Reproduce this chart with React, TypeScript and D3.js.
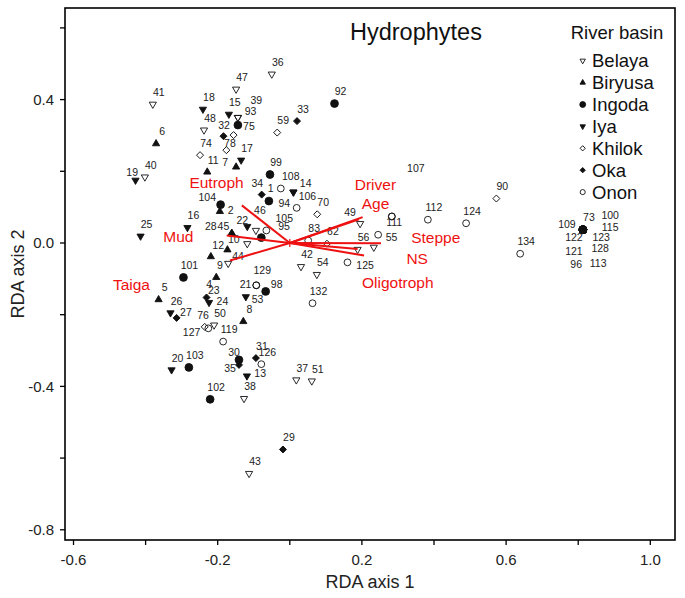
import React from "react";
import * as d3 from "d3";

// ---------- data ----------
const basinNames = ["Belaya", "Biryusa", "Ingoda", "Iya", "Khilok", "Oka", "Onon"];

type P = [string, number, number];

const belaya: P[] = [
  ["41", -0.380, 0.387], ["48", -0.238, 0.315], ["93", -0.144, 0.350], ["39", -0.144, 0.350],
  ["47", -0.149, 0.429], ["36", -0.050, 0.471], ["40", -0.402, 0.184], ["105", -0.094, 0.035],
  ["10", -0.118, -0.002], ["9", -0.171, -0.057], ["49", 0.195, 0.054], ["56", 0.188, -0.018],
  ["", 0.233, -0.012], ["42", 0.031, -0.066], ["54", 0.075, -0.088], ["37", 0.018, -0.382],
  ["51", 0.061, -0.385], ["38", -0.127, -0.434], ["43", -0.113, -0.643], ["50", -0.210, -0.229],
];
const biryusa: P[] = [
  ["6", -0.371, 0.277], ["11", -0.229, 0.198], ["7", -0.149, 0.212], ["2", -0.194, 0.088],
  ["45", -0.161, 0.027], ["28", -0.161, 0.027], ["12", -0.219, -0.038], ["44", -0.173, -0.019],
  ["23", -0.204, -0.096], ["5", -0.364, -0.158], ["8", -0.129, -0.219],
];
const ingoda: P[] = [
  ["92", 0.124, 0.389], ["75", -0.144, 0.329], ["99", -0.055, 0.191], ["1", -0.058, 0.117],
  ["104", -0.192, 0.107], ["46", -0.079, 0.015], ["101", -0.295, -0.096], ["98", -0.067, -0.135],
  ["103", -0.280, -0.347], ["102", -0.221, -0.436], ["30", -0.141, -0.326],
  ["109", 0.813, 0.037], ["100", 0.813, 0.037], ["115", 0.813, 0.037], ["122", 0.813, 0.037],
  ["123", 0.813, 0.037], ["121", 0.813, 0.037], ["128", 0.813, 0.037], ["96", 0.813, 0.037],
  ["113", 0.813, 0.037], ["73", 0.813, 0.037],
];
const iya: P[] = [
  ["18", -0.241, 0.373], ["15", -0.169, 0.359], ["17", -0.135, 0.231], ["19", -0.428, 0.175],
  ["25", -0.414, 0.019], ["16", -0.284, 0.043], ["22", -0.118, 0.046], ["14", 0.010, 0.142],
  ["106", 0.010, 0.142], ["26", -0.331, -0.195], ["20", -0.328, -0.354], ["53", -0.122, -0.150],
  ["13", -0.119, -0.371], ["24", -0.224, -0.166],
];
const khilok: P[] = [
  ["74", -0.249, 0.245], ["78", -0.176, 0.259], ["", -0.156, 0.301], ["59", -0.035, 0.308],
  ["70", 0.076, 0.080], ["62", 0.103, -0.002], ["90", 0.573, 0.124], ["76", -0.236, -0.234],
];
const oka: P[] = [
  ["32", -0.184, 0.298], ["33", 0.020, 0.340], ["34", -0.078, 0.135], ["4", -0.231, -0.152],
  ["27", -0.314, -0.209], ["31", -0.094, -0.321], ["35", -0.141, -0.340], ["29", -0.019, -0.576],
];
const onon: P[] = [
  ["108", -0.025, 0.152], ["94", 0.019, 0.098], ["95", -0.065, 0.035], ["83", 0.051, 0.007],
  ["111", 0.283, 0.074], ["107", 0.283, 0.074], ["55", 0.245, 0.023], ["125", 0.160, -0.054],
  ["112", 0.383, 0.065], ["124", 0.489, 0.055], ["134", 0.639, -0.030], ["129", -0.093, -0.118],
  ["21", -0.093, -0.118], ["132", 0.063, -0.168], ["119", -0.185, -0.275], ["126", -0.079, -0.338],
  ["127", -0.226, -0.238],
];
const basinPoints = [belaya, biryusa, ingoda, iya, khilok, oka, onon];

// environmental vectors
const vectorNames = ["Eutroph", "Mud", "Taiga", "Driver", "Age", "Steppe", "NS", "Oligotroph"];
const vectorX = [-0.133, -0.175, -0.166, 0.202, 0.192, 0.253, 0.188, 0.206];
const vectorY = [0.105, 0.021, -0.049, 0.072, 0.066, -0.001, -0.017, -0.035];

// axes
const xTicks = [-0.6, -0.4, -0.2, 0.0, 0.2, 0.4, 0.6, 0.8, 1.0];
const xTickLabels = [-0.6, -0.2, 0.2, 0.6, 1.0];
const yTicks = [0.6, 0.4, 0.2, 0.0, -0.2, -0.4, -0.6, -0.8];
const yTickLabels = [0.4, 0.0, -0.4, -0.8];

// ---------- layout / style (not data) ----------
const labelNudge: Record<string, [number, number]> = {
  "93": [12.7, -6.3], "39": [18.4, -17.3], "105": [28.3, -12.3], "10": [-13.4, -4], "9": [-8.3, 1.6],
  "49": [-10, -11.6], "7": [-11, -4.4], "2": [10.7, -1], "45": [-8.3, -6.7], "28": [-21, -6.7],
  "12": [7.3, -11], "44": [10.6, 6.7], "23": [-2.4, 13.3], "75": [11, 1.7], "1": [1.7, -12.4],
  "104": [-13.3, -7.6], "46": [-1.4, -27.3], "98": [11, -7.4], "30": [-5, -7.3],
  "109": [-16, -5], "100": [27.3, -14.3], "115": [27.3, -2.6], "122": [-9, 8], "123": [18.3, 7.4],
  "121": [-9, 21.4], "128": [17.3, 19], "96": [-6.7, 35], "113": [15.3, 34],
  "19": [-3.3, -8.3], "22": [-5, -6], "14": [12.3, -9], "106": [14, 4], "53": [11.7, 3],
  "13": [13.3, -3], "24": [13.4, -1.7], "78": [3.6, -6.7], "76": [-1.7, -12], "32": [0.6, -11],
  "34": [-4.3, -11], "4": [2.6, -13.4], "27": [9.3, -5.6], "35": [-9, 3.7], "108": [10, -12.3],
  "94": [-12.4, -4.6], "95": [17.6, -4], "111": [2.3, 5.7], "107": [24, -48.3], "55": [13.4, 3],
  "125": [17.6, 3.3], "129": [6, -14.7], "21": [-10.7, -0.7], "127": [-16.7, 4],
};
const defaultNudge: [number, number] = [6, -12];

const vectorLabelNudge: [number, number][] = [
  [-25.3, -23], [-48.3, 1], [-98.5, 24.3], [12.8, -32.4], [16.5, -16.3], [54.7, -6], [59.6, 9.6], [33.7, 26.7],
];

const FONT = "'Liberation Sans', Arial, Helvetica, sans-serif";
const RED = "#ee1111";

type Shape = "triDown" | "triUp" | "circle" | "diamond";
const basinShape: Shape[] = ["triDown", "triUp", "circle", "triDown", "diamond", "diamond", "circle"];
const basinFilled = [false, true, true, true, false, true, false];

function markerPath(shape: Shape, filled: boolean, scale: number): string {
  const gen = d3.symbol();
  if (shape === "circle") {
    const r = (filled ? 3.9 : 3.4) * scale;
    return gen.type(d3.symbolCircle).size(Math.PI * r * r)() as string;
  }
  if (shape === "diamond") {
    const diag = 7 * scale;
    const a = diag / Math.SQRT2;
    return gen.type(d3.symbolSquare).size(a * a)() as string;
  }
  const side = 7.2 * scale;
  return gen.type(d3.symbolTriangle).size((side * side * Math.sqrt(3)) / 4)() as string;
}
function markerRotation(shape: Shape): number {
  if (shape === "triDown") return 180;
  if (shape === "diamond") return 45;
  return 0;
}

export default function App() {
  const W = 685, H = 598;
  const left = 65, right = 675, top = 8, bottom = 540;
  const x = d3.scaleLinear().domain([-0.6236, 1.0685]).range([left, right]);
  const y = d3.scaleLinear().domain([0.6555, -0.8285]).range([top, bottom]);

  const legendRows = basinNames.map((_, i) => 60.7 + i * 21.9);

  return (
    <svg width={W} height={H} style={{ position: "absolute", left: 0, top: 0, background: "#fff" }} fontFamily={FONT}>
      <rect x={0} y={0} width={W} height={H} fill="#fff" />
      {/* frame */}
      <rect x={left} y={top} width={right - left} height={bottom - top} fill="none" stroke="#000" strokeWidth={1.6} />
      {/* x ticks */}
      {xTicks.map((t) => (
        <line key={"xt" + t} x1={x(t)} x2={x(t)} y1={bottom} y2={bottom + 5} stroke="#000" strokeWidth={1.3} />
      ))}
      {xTickLabels.map((t) => (
        <text key={"xl" + t} x={x(t)} y={565} textAnchor="middle" fontSize={15} fill="#222">
          {t.toFixed(1)}
        </text>
      ))}
      {yTicks.map((t) => (
        <line key={"yt" + t} x1={left - 5} x2={left} y1={y(t)} y2={y(t)} stroke="#000" strokeWidth={1.3} />
      ))}
      {yTickLabels.map((t) => (
        <text key={"yl" + t} x={54} y={y(t) + 5.3} textAnchor="end" fontSize={15} fill="#222">
          {t.toFixed(1)}
        </text>
      ))}
      <text x={(left + right) / 2} y={588} textAnchor="middle" fontSize={18} fill="#222">RDA axis 1</text>
      <text transform={`translate(24,${(top + bottom) / 2}) rotate(-90)`} textAnchor="middle" fontSize={18} fill="#222">RDA axis 2</text>

      {/* title */}
      <text x={350} y={39.5} fontSize={23.5} fill="#111">Hydrophytes</text>

      {/* points */}
      {basinPoints.map((pts, bi) =>
        pts.map((p, pi) => (
          <path
            key={`m${bi}-${pi}`}
            d={markerPath(basinShape[bi], basinFilled[bi], 1)}
            transform={`translate(${x(p[1])},${y(p[2])}) rotate(${markerRotation(basinShape[bi])})`}
            fill={basinFilled[bi] ? "#111" : "#fff"}
            fillOpacity={basinFilled[bi] ? 1 : 0}
            stroke="#111"
            strokeWidth={0.9}
          />
        ))
      )}
      {/* point labels */}
      {basinPoints.map((pts, bi) =>
        pts.filter((p) => p[0] !== "").map((p, pi) => {
          const n = labelNudge[p[0]] || defaultNudge;
          return (
            <text key={`l${bi}-${pi}`} x={x(p[1]) + n[0]} y={y(p[2]) + n[1] + 3.7} textAnchor="middle" fontSize={10.5} fill="#222">
              {p[0]}
            </text>
          );
        })
      )}

      {/* vectors */}
      <line x1={x(0)} x2={x(0)} y1={y(0) - 4} y2={y(0) + 4} stroke={RED} strokeWidth={1.2} />
      {vectorNames.map((nm, i) => (
        <line key={"v" + nm} x1={x(0)} y1={y(0)} x2={x(vectorX[i])} y2={y(vectorY[i])} stroke={RED} strokeWidth={2} />
      ))}
      {vectorNames.map((nm, i) => (
        <text
          key={"vl" + nm}
          x={x(vectorX[i]) + vectorLabelNudge[i][0]}
          y={y(vectorY[i]) + vectorLabelNudge[i][1] + 5.5}
          textAnchor="middle"
          fontSize={15.5}
          fill={RED}
        >
          {nm}
        </text>
      ))}

      {/* legend */}
      <text x={617} y={39} textAnchor="middle" fontSize={18.5} fill="#111">River basin</text>
      {basinNames.map((nm, i) => (
        <g key={"lg" + nm}>
          <path
            d={markerPath(basinShape[i], basinFilled[i], 0.75)}
            transform={`translate(582.7,${legendRows[i]}) rotate(${markerRotation(basinShape[i])})`}
            fill={basinFilled[i] ? "#111" : "#fff"}
            stroke="#111"
            strokeWidth={0.9}
          />
          <text x={592} y={legendRows[i] + 6.5} fontSize={18.5} fill="#111">{nm}</text>
        </g>
      ))}
    </svg>
  );
}
